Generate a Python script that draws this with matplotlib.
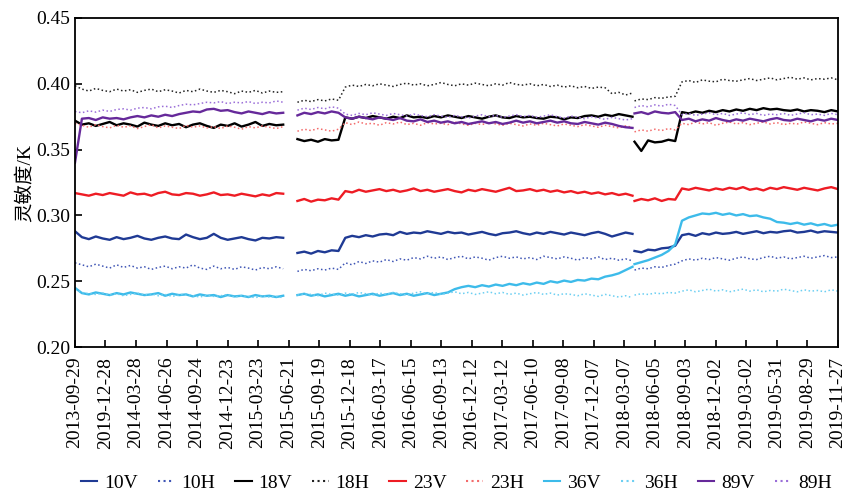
import numpy as np
import matplotlib.pyplot as plt

plt.rcParams['font.family'] = ['Liberation Serif', 'Noto Sans CJK SC']

# days since 2013-09-29, three observing periods (gaps in between)
days_a = np.linspace(0, 614, 31)
days_b = np.linspace(656, 1644, 50)
days_c = np.linspace(1650, 2250, 31)

tick_days = np.arange(0, 2251, 90)
tick_labels = ['2013-09-29', '2019-12-28', '2014-03-28', '2014-06-26', '2014-09-24',
               '2014-12-23', '2015-03-23', '2015-06-21', '2015-09-19', '2015-12-18',
               '2016-03-17', '2016-06-15', '2016-09-13', '2016-12-12', '2017-03-12',
               '2017-06-10', '2017-09-08', '2017-12-07', '2018-03-07', '2018-06-05',
               '2018-09-03', '2018-12-02', '2019-03-02', '2019-05-31', '2019-08-29',
               '2019-11-27']

# sensitivity, units of 1e-4 K  (31 + 50 + 31 values per channel)
s10v = [2880, 2835, 2820, 2840, 2825, 2815, 2835, 2820, 2830, 2845,
        2825, 2815, 2830, 2840, 2825, 2820, 2855, 2835, 2820, 2830,
        2860, 2830, 2815, 2825, 2835, 2820, 2810, 2830, 2825, 2835, 2830,
        2715, 2725, 2710, 2730, 2720, 2735, 2730, 2830, 2845, 2835,
        2850, 2840, 2855, 2860, 2850, 2875, 2860, 2870, 2865, 2880,
        2870, 2860, 2875, 2865, 2870, 2855, 2865, 2875, 2860, 2850,
        2865, 2870, 2880, 2865, 2855, 2870, 2860, 2875, 2865, 2855,
        2870, 2860, 2850, 2865, 2875, 2860, 2840, 2855, 2870, 2860,
        2730, 2720, 2740, 2735, 2750, 2755, 2770,
        2850, 2860, 2845, 2865, 2855, 2870, 2860, 2865, 2875, 2860,
        2870, 2880, 2865, 2875, 2870, 2880, 2885, 2870, 2875, 2885,
        2870, 2880, 2875, 2870]
s10h = [2640, 2625, 2610, 2630, 2615, 2600, 2625, 2605, 2620, 2600,
        2610, 2590, 2605, 2615, 2595, 2610, 2600, 2625, 2600, 2590,
        2615, 2595, 2605, 2590, 2610, 2600, 2585, 2605, 2595, 2610, 2595,
        2575, 2590, 2580, 2595, 2585, 2600, 2590, 2640, 2625, 2650,
        2635, 2655, 2645, 2665, 2650, 2670, 2660, 2680, 2670, 2690,
        2675, 2685, 2665, 2680, 2690, 2670, 2685, 2675, 2660, 2680,
        2690, 2675, 2685, 2670, 2680, 2665, 2690, 2680, 2670, 2685,
        2675, 2660, 2680, 2670, 2685, 2665, 2675, 2660, 2670, 2655,
        2585, 2600, 2595, 2610, 2605, 2620, 2630,
        2655, 2670, 2660, 2675, 2665, 2680, 2670, 2660, 2675, 2685,
        2670, 2665, 2680, 2690, 2675, 2685, 2670, 2680, 2690, 2675,
        2685, 2695, 2680, 2685]
s18v = [3720, 3690, 3700, 3680, 3695, 3710, 3685, 3700, 3690, 3675,
        3705, 3690, 3680, 3700, 3685, 3695, 3670, 3690, 3700, 3680,
        3665, 3690, 3680, 3700, 3675, 3690, 3710, 3680, 3695, 3685, 3690,
        3580, 3565, 3575, 3560, 3580, 3570, 3575,
        3745, 3735, 3750, 3740, 3755, 3745, 3735, 3750, 3740, 3760,
        3745, 3750, 3740, 3755, 3745, 3760, 3750, 3740, 3755, 3745,
        3735, 3750, 3760, 3745, 3740, 3755, 3745, 3750, 3740, 3735,
        3750, 3745, 3730, 3745, 3740, 3755, 3760, 3750, 3765, 3755,
        3770, 3760, 3750,
        3560, 3490, 3570, 3555, 3560, 3575, 3565,
        3785, 3775, 3790, 3780, 3795, 3785, 3800, 3790, 3805, 3795,
        3810, 3800, 3815, 3805, 3810, 3800, 3795, 3805, 3790, 3800,
        3795, 3785, 3800, 3790]
s18h = [3985, 3960, 3945, 3965, 3950, 3940, 3960, 3945, 3955, 3935,
        3950, 3960, 3940, 3955, 3945, 3930, 3950, 3940, 3960, 3945,
        3935, 3950, 3940, 3925, 3945, 3935, 3950, 3930, 3945, 3935, 3940,
        3860, 3875, 3865, 3880, 3870, 3885, 3875,
        3975, 3990, 3980, 3995, 3985, 4000, 3990, 3980, 3995, 4005,
        3990, 4000, 3985, 3995, 4010, 3995, 3985, 4000, 3990, 4005,
        3995, 3985, 4000, 3990, 4010, 3995, 3990, 4000, 3985, 3995,
        3980, 3990, 3975, 3985, 3970, 3980, 3965, 3975, 3970, 3925,
        3935, 3915, 3930,
        3870, 3885, 3880, 3895, 3890, 3900, 3905,
        4015, 4025, 4010, 4030, 4020, 4015, 4035, 4025, 4020, 4030,
        4040, 4025, 4035, 4045, 4030, 4040, 4050, 4035, 4045, 4030,
        4040, 4035, 4045, 4030]
s23v = [3170, 3160, 3150, 3165, 3155, 3170, 3160, 3150, 3175, 3160,
        3165, 3150, 3170, 3180, 3160, 3155, 3170, 3165, 3150, 3160,
        3175, 3155, 3160, 3150, 3165, 3155, 3145, 3160, 3150, 3170, 3165,
        3110, 3125, 3105, 3120, 3115, 3130, 3120,
        3185, 3175, 3195, 3180, 3190, 3200, 3185, 3195, 3180, 3190,
        3205, 3185, 3195, 3180, 3190, 3200, 3185, 3175, 3195, 3185,
        3200, 3190, 3180, 3195, 3210, 3185, 3190, 3200, 3185, 3195,
        3180, 3190, 3175, 3185, 3170, 3180, 3165, 3175, 3160, 3170,
        3155, 3165, 3150,
        3110, 3125, 3115, 3130, 3110, 3125, 3120,
        3205, 3195, 3210, 3200, 3190, 3205, 3195, 3210, 3200, 3215,
        3195, 3205, 3190, 3210, 3200, 3215, 3205, 3195, 3210, 3200,
        3190, 3205, 3215, 3200]
s23h = [3700, 3685, 3670, 3690, 3675, 3665, 3685, 3670, 3680, 3660,
        3675, 3690, 3665, 3680, 3670, 3660, 3685, 3670, 3680, 3665,
        3675, 3660, 3680, 3670, 3655, 3675, 3665, 3680, 3670, 3660, 3675,
        3640, 3655, 3645, 3660, 3650, 3640, 3655,
        3705, 3690, 3710, 3695, 3700, 3685, 3705, 3695, 3710, 3690,
        3700, 3685, 3705, 3695, 3700, 3690, 3710, 3695, 3685, 3700,
        3690, 3705, 3695, 3685, 3700, 3690, 3680, 3695, 3685, 3700,
        3690, 3680, 3695, 3685, 3675, 3690, 3680, 3670, 3685, 3675,
        3665, 3680, 3670,
        3635, 3650, 3640, 3655, 3645, 3660, 3650,
        3700, 3690, 3710, 3695, 3705, 3685, 3700, 3710, 3695, 3705,
        3690, 3700, 3710, 3695, 3705, 3690, 3700, 3695, 3710, 3700,
        3690, 3705, 3695, 3700]
s36v = [2450, 2410, 2400, 2415, 2405, 2395, 2410, 2400, 2415, 2405,
        2395, 2400, 2410, 2390, 2405, 2395, 2400, 2385, 2400, 2390,
        2395, 2380, 2395, 2385, 2390, 2380, 2395, 2385, 2390, 2380, 2390,
        2395, 2405, 2390, 2400, 2385, 2395, 2405, 2390, 2400, 2385,
        2395, 2405, 2390, 2400, 2410, 2395, 2405, 2390, 2400, 2410,
        2395, 2405, 2415, 2440, 2455, 2465, 2455, 2470, 2460, 2475,
        2465, 2480, 2470, 2485, 2475, 2490, 2480, 2500, 2490, 2505,
        2495, 2510, 2505, 2520, 2515, 2535, 2545, 2560, 2585, 2610,
        2630, 2645, 2660, 2680, 2700, 2730, 2780, 2960, 2985, 3000,
        3015, 3010, 3020, 3005, 3015, 3000, 3010, 2995, 3000, 2985,
        2975, 2950, 2945, 2935, 2945, 2930, 2940, 2925, 2935, 2920, 2930]
s36h = [2440, 2415, 2405, 2400, 2410, 2395, 2405, 2390, 2400, 2410,
        2395, 2405, 2390, 2400, 2385, 2395, 2405, 2390, 2380, 2395,
        2385, 2390, 2400, 2380, 2390, 2385, 2375, 2390, 2380, 2385, 2375,
        2395, 2405, 2400, 2390, 2410, 2400, 2395, 2410, 2400, 2415,
        2405, 2395, 2410, 2400, 2415, 2405, 2395, 2410, 2420, 2405,
        2415, 2400, 2410, 2420, 2405, 2415, 2400, 2410, 2420, 2405,
        2415, 2400, 2410, 2395, 2405, 2415, 2400, 2410, 2395, 2405,
        2400, 2390, 2405, 2395, 2385, 2400, 2390, 2380, 2390, 2375,
        2395, 2405, 2400, 2410, 2405, 2415, 2410, 2425, 2435, 2420,
        2430, 2440, 2425, 2435, 2420, 2430, 2440, 2425, 2435, 2420,
        2430, 2425, 2440, 2430, 2420, 2435, 2425, 2430, 2420, 2435, 2425]
s89v = [3400, 3735, 3740, 3725, 3745, 3735, 3740, 3730, 3745, 3755,
        3745, 3760, 3750, 3765, 3755, 3770, 3780, 3790, 3785, 3805,
        3810, 3795, 3800, 3785, 3775, 3790, 3780, 3770, 3785, 3775, 3780,
        3760, 3780, 3770, 3785, 3775, 3790, 3780,
        3745, 3735, 3750, 3740, 3730, 3745, 3735, 3725, 3740, 3720,
        3715, 3730, 3710, 3720, 3705, 3715, 3700, 3710, 3695, 3705,
        3715, 3700, 3710, 3695, 3705, 3720, 3705, 3715, 3700, 3710,
        3720, 3705, 3715, 3700, 3695, 3710, 3700, 3690, 3705, 3695,
        3680, 3670, 3665,
        3775, 3785, 3770, 3790, 3780, 3775, 3785,
        3725, 3735, 3715, 3730, 3720, 3740, 3725, 3715, 3730, 3720,
        3735, 3725, 3715, 3730, 3740, 3725, 3720, 3735, 3725, 3715,
        3730, 3720, 3735, 3725]
s89h = [3790, 3780, 3795, 3785, 3800, 3790, 3805, 3810, 3800, 3815,
        3820, 3810, 3825, 3830, 3820, 3835, 3845, 3840, 3850, 3860,
        3855, 3865, 3850, 3860, 3855, 3865, 3850, 3860, 3855, 3870, 3860,
        3800, 3815, 3805, 3820, 3810, 3825, 3815,
        3770, 3760, 3775, 3765, 3780, 3770, 3760, 3775, 3765, 3755,
        3770, 3760, 3750, 3765, 3755, 3745, 3760, 3750, 3740, 3755,
        3765, 3750, 3760, 3745, 3755, 3765, 3750, 3760, 3745, 3755,
        3765, 3750, 3740, 3755, 3745, 3735, 3750, 3740, 3730, 3745,
        3735, 3725, 3735,
        3820, 3835, 3825, 3840, 3830, 3845, 3835,
        3765, 3775, 3760, 3770, 3780, 3765, 3775, 3760, 3770, 3780,
        3765, 3775, 3760, 3770, 3765, 3775, 3760, 3770, 3780, 3765,
        3770, 3760, 3775, 3765]

days = np.concatenate([days_a, [np.nan], days_b, [np.nan], days_c])


def gapped(vals):
    v = np.asarray(vals, dtype=float) / 1e4
    assert len(v) == 112, len(v)
    return np.concatenate([v[:31], [np.nan], v[31:81], [np.nan], v[81:]])


channels = [
    ('10V', s10v, '#1f3a94', '-', 1.7),
    ('10H', s10h, '#3f55b5', ':', 1.1),
    ('18V', s18v, '#000000', '-', 1.7),
    ('18H', s18h, '#222222', ':', 1.1),
    ('23V', s23v, '#ee1c24', '-', 1.7),
    ('23H', s23h, '#f36b6b', ':', 1.1),
    ('36V', s36v, '#3dbbea', '-', 1.7),
    ('36H', s36h, '#6ccff2', ':', 1.1),
    ('89V', s89v, '#66299a', '-', 1.7),
    ('89H', s89h, '#9a6ed8', ':', 1.1),
]

fig = plt.figure(figsize=(8.48, 4.93), dpi=100)
ax = fig.add_axes([0.0884, 0.296, 0.8998, 0.6675])

for name, vals, color, ls, lw in channels:
    ax.plot(days, gapped(vals), color=color, linestyle=ls, linewidth=lw, label=name)

ax.set_xlim(0, 2250)
ax.set_ylim(0.20, 0.45)
ax.set_yticks(np.arange(0.20, 0.451, 0.05))
ax.set_yticklabels([f'{t:.2f}' for t in np.arange(0.20, 0.451, 0.05)], fontsize=14)
ax.set_xticks(tick_days)
ax.set_xticklabels(tick_labels, rotation=90, fontsize=14)
ax.tick_params(direction='in', length=5, width=1.2, top=False, right=False)
ax.tick_params(axis='x', pad=7)
for sp in ax.spines.values():
    sp.set_linewidth(1.3)

ax.set_ylabel('灵敏度/K', fontsize=14, labelpad=2)

leg = fig.legend(loc='lower left', bbox_to_anchor=(0.086, -0.014, 0.904, 0.04),
                 mode='expand', ncol=10, frameon=False, fontsize=14,
                 handlelength=0.85, handletextpad=0.35, borderaxespad=0)
for h in leg.get_lines():
    h.set_linewidth(1.5)

fig.savefig('out.png', dpi=100)
